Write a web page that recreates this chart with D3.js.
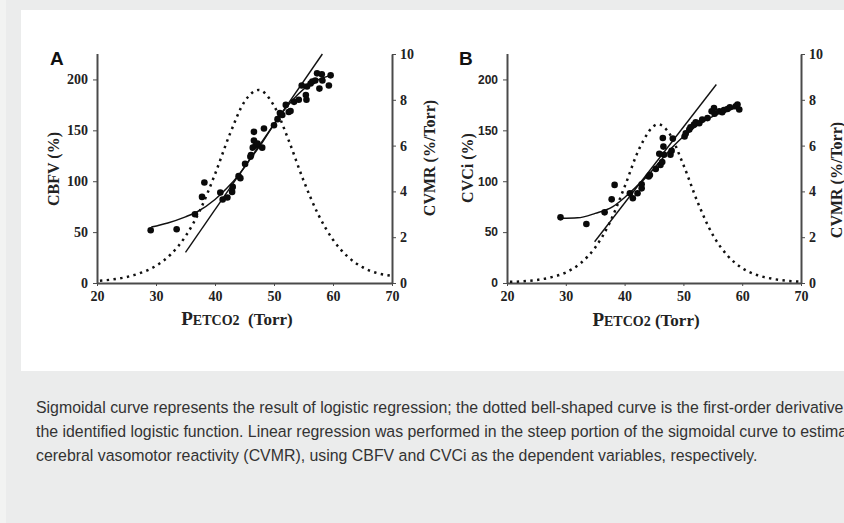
<!DOCTYPE html>
<html>
<head>
<meta charset="utf-8">
<script src="https://cdn.jsdelivr.net/npm/d3@7"></script>
<style>
  html, body { margin: 0; padding: 0; background: #ebecec; overflow: hidden; }
  svg { display: block; }
</style>
</head>
<body>
<svg id="fig" width="844" height="523"></svg>
<script>
// Shared tick values
const torrTicks = [20, 30, 40, 50, 60, 70];
const pctTicks = [0, 50, 100, 150, 200];
const cvmrTicks = [0, 2, 4, 6, 8, 10];

// Panel A: CBFV observations
const cbfvTorr = [29.1, 33.5, 36.6, 37.8, 38.2, 40.9, 41.3, 42.1, 42.9, 43.0, 44.0, 44.3, 45.1, 46.0, 46.1, 46.4,
  46.6, 46.6, 46.9, 47.2, 48.0, 48.3, 50.0, 50.6, 51.0, 51.4, 52.0, 52.5, 52.8, 53.4, 54.2, 54.7, 55.4, 55.5,
  55.6, 56.2, 56.5, 57.0, 57.3, 57.7, 58.1, 58.2, 59.3, 59.6];
const cbfvPct = [51.8, 52.8, 67.5, 84.6, 98.7, 88.9, 82.0, 84.0, 89.5, 94.4, 105, 103, 117, 124, 125.6, 133,
  148.5, 140, 135, 137, 133, 151.8, 155, 161, 167, 165, 175, 168, 169, 178, 180, 194, 184.6, 180,
  193, 196, 198, 199, 206, 191, 205, 199, 194, 204];
// Panel A: logistic fit, its derivative, and the linear fit of the steep part
const cbfvFitTorr = [29.2, 32, 35, 37, 40, 42, 44, 46, 48, 50, 52, 54, 56, 58, 59.6];
const cbfvFitPct = [55, 59, 65, 70, 82, 93, 106, 122, 138, 156, 172, 185, 195, 201, 204];
const cbfvDerivTorr = [20.5, 22.5, 25, 27.5, 30, 32.5, 35, 37.5, 40, 42.5, 45, 47.4, 50, 52.5, 55, 57.5, 60, 62.5, 65, 67.5, 69.8];
const cbfvDerivCvmr = [0.1, 0.15, 0.26, 0.45, 0.75, 1.25, 2.04, 3.2, 4.75, 6.49, 7.92, 8.43, 7.74, 6.22, 4.48, 2.99, 1.89, 1.15, 0.69, 0.43, 0.32];
const cbfvLineTorr = [35.0, 58.2];
const cbfvLinePct = [30, 225];

// Panel B: CVCi observations
const cvciTorr = [29.1, 33.5, 36.6, 37.8, 38.3, 40.9, 41.4, 42.2, 42.9, 42.9, 44.1, 44.3, 45.3, 45.9, 46.1, 46.4,
  46.5, 46.6, 46.7, 47.8, 48.0, 48.2, 50.2, 50.4, 51.0, 51.2, 51.8, 52.1, 52.7, 53.2, 54.1, 54.8, 55.2, 55.3,
  56.1, 56.6, 56.9, 57.5, 57.9, 58.9, 59.2, 59.5];
const cvciPct = [64.5, 57.9, 69.4, 82.2, 96.4, 88.2, 83.2, 88.2, 93, 97, 104.6, 106, 112, 127, 116, 118.8,
  142.4, 134, 126, 126, 130, 142, 144, 147, 150.7, 153, 155.6, 158, 157, 160.5, 162, 168.8, 172, 166.4,
  168.8, 167.8, 170, 171, 172.7, 173.7, 175.3, 170.4];
const cvciFitTorr = [29.2, 32, 35, 38, 40, 42, 44, 46, 48, 50, 52, 54, 56, 58, 59.6];
const cvciFitPct = [63.5, 64, 68.4, 75, 84, 94.7, 106, 119.4, 132.6, 144, 153.3, 160.5, 166.4, 170.4, 172.7];
const cvciDerivTorr = [20.5, 22.5, 25, 27.5, 30, 32.5, 35, 37.5, 40, 42.5, 45.7, 47.5, 50, 52.5, 55, 57.5, 60, 62.5, 65, 67.5, 69.8];
const cvciDerivCvmr = [0.05, 0.07, 0.13, 0.25, 0.46, 0.86, 1.55, 2.65, 4.2, 5.87, 6.93, 6.57, 5.16, 3.48, 2.1, 1.2, 0.65, 0.35, 0.19, 0.1, 0.06];
const cvciLineTorr = [34.9, 55.6];
const cvciLinePct = [40.5, 195];

const captionLines = [
  "Sigmoidal curve represents the result of logistic regression; the dotted bell-shaped curve is the first-order derivative of",
  "the identified logistic function. Linear regression was performed in the steep portion of the sigmoidal curve to estimate",
  "cerebral vasomotor reactivity (CVMR), using CBFV and CVCi as the dependent variables, respectively."
];

const svg = d3.select("#fig");

// page background and figure card
svg.append("rect").attr("x", 0).attr("y", 0).attr("width", 844).attr("height", 523).attr("fill", "#ebecec");
svg.append("rect").attr("x", 0).attr("y", 0).attr("width", 6).attr("height", 523).attr("fill", "#f2f3f2");
svg.append("rect").attr("x", 21).attr("y", 10).attr("width", 830).attr("height", 361).attr("fill", "#ffffff");

const serif = "'Liberation Serif', 'Times New Roman', serif";
const sans = "'Liberation Sans', Arial, sans-serif";

function panel(cfg) {
  const g = svg.append("g");
  const x = d3.scaleLinear().domain([20, 70]).range([cfg.left, cfg.right]);
  const y = d3.scaleLinear().domain([0, 225]).range([cfg.bottom, cfg.top]);
  const y2 = d3.scaleLinear().domain([0, 10]).range([cfg.bottom, cfg.top]);
  const axisColor = "#4a4a4a";

  const styleAxis = (sel, font, size) => {
    sel.attr("font-size", null).attr("font-family", null);
    sel.select(".domain").attr("stroke", axisColor).attr("stroke-width", 2);
    sel.selectAll(".tick line").attr("stroke", axisColor).attr("stroke-width", 1);
    sel.selectAll(".tick text").attr("fill", "#222").style("font-family", font)
      .style("font-weight", "bold").style("font-size", size + "px");
  };

  // x axis
  const gx = g.append("g").attr("transform", `translate(0,${cfg.bottom})`)
    .call(d3.axisBottom(x).tickValues(torrTicks).tickSize(3).tickSizeOuter(0).tickPadding(5));
  styleAxis(gx, serif, 14);

  // left axis
  const gy = g.append("g").attr("transform", `translate(${cfg.left},0)`)
    .call(d3.axisLeft(y).tickValues(pctTicks).tickSize(4).tickSizeOuter(0).tickPadding(5));
  styleAxis(gy, cfg.leftFont, cfg.leftFontSize);
  gy.select(".domain").attr("d", `M0.5,${cfg.bottom}V${cfg.top}`);

  // right axis
  const gy2 = g.append("g").attr("transform", `translate(${cfg.right},0)`)
    .call(d3.axisRight(y2).tickValues(cvmrTicks).tickSize(4).tickSizeOuter(0).tickPadding(4));
  styleAxis(gy2, serif, 14);

  // derivative of the logistic fit (dotted)
  const dLine = d3.line().x(i => x(cfg.derivTorr[i])).y(i => y2(cfg.derivCvmr[i])).curve(d3.curveMonotoneX);
  g.append("path").attr("d", dLine(d3.range(cfg.derivTorr.length)))
    .attr("fill", "none").attr("stroke", "#111").attr("stroke-width", 2.5)
    .attr("stroke-dasharray", "2.4,4.4");

  // linear regression over the steep part
  const lLine = d3.line().x(i => x(cfg.lineTorr[i])).y(i => y(cfg.linePct[i]));
  g.append("path").attr("d", lLine([0, 1]))
    .attr("fill", "none").attr("stroke", "#111").attr("stroke-width", 1.4);

  // logistic fit
  const fLine = d3.line().x(i => x(cfg.fitTorr[i])).y(i => y(cfg.fitPct[i])).curve(d3.curveMonotoneX);
  g.append("path").attr("d", fLine(d3.range(cfg.fitTorr.length)))
    .attr("fill", "none").attr("stroke", "#111").attr("stroke-width", 1.5);

  // observations
  g.append("g").selectAll("circle").data(d3.range(cfg.torr.length)).join("circle")
    .attr("cx", i => x(cfg.torr[i])).attr("cy", i => y(cfg.pct[i])).attr("r", 3.3)
    .attr("fill", "#0a0a0a");

  // panel letter
  g.append("text").attr("x", cfg.letterX).attr("y", 65).text(cfg.letter)
    .style("font-family", sans).style("font-weight", "bold").style("font-size", "19px").attr("fill", "#111");

  // left axis title
  g.append("text").attr("transform", `translate(${cfg.leftTitleX},${cfg.leftTitleY}) rotate(-90)`)
    .attr("text-anchor", "middle").attr("dy", "0.35em").text(cfg.leftTitle)
    .style("font-family", serif).style("font-weight", "bold").style("font-size", "16px").attr("fill", "#222");

  // right axis title
  g.append("text").attr("transform", `translate(${cfg.rightTitleX},${cfg.rightTitleY}) rotate(-90)`)
    .attr("text-anchor", "middle").attr("dy", "0.35em").text("CVMR (%/Torr)")
    .style("font-family", serif).style("font-weight", "bold").style("font-size", "16px").attr("fill", "#222");

  // x axis title: P with subscript-like ETCO2
  const xt = g.append("text").attr("x", cfg.xTitleX).attr("y", cfg.xTitleY).attr("text-anchor", "middle")
    .style("font-family", serif).style("font-weight", "bold").attr("fill", "#222");
  xt.append("tspan").text("P").style("font-size", "19px");
  xt.append("tspan").text("ETCO2").style("font-size", "14px");
  xt.append("tspan").text(cfg.xTitleGap + "(Torr)").style("font-size", "17px");
}

panel({
  left: 97, right: 392, top: 54, bottom: 283,
  torr: cbfvTorr, pct: cbfvPct,
  fitTorr: cbfvFitTorr, fitPct: cbfvFitPct,
  derivTorr: cbfvDerivTorr, derivCvmr: cbfvDerivCvmr,
  lineTorr: cbfvLineTorr, linePct: cbfvLinePct,
  letter: "A", letterX: 50,
  leftTitle: "CBFV (%)", leftTitleX: 53, leftTitleY: 169,
  rightTitleX: 429, rightTitleY: 158,
  xTitleX: 237, xTitleY: 325, xTitleGap: "\u00a0\u00a0",
  leftFont: serif, leftFontSize: 14
});

panel({
  left: 507, right: 801, top: 54, bottom: 283,
  torr: cvciTorr, pct: cvciPct,
  fitTorr: cvciFitTorr, fitPct: cvciFitPct,
  derivTorr: cvciDerivTorr, derivCvmr: cvciDerivCvmr,
  lineTorr: cvciLineTorr, linePct: cvciLinePct,
  letter: "B", letterX: 459,
  leftTitle: "CVCi (%)", leftTitleX: 467, leftTitleY: 168,
  rightTitleX: 836, rightTitleY: 180,
  xTitleX: 646, xTitleY: 326, xTitleGap: "\u00a0",
  leftFont: sans, leftFontSize: 12
});

// caption, set in a slightly condensed face; long lines run past the card's right edge
svg.append("g").attr("transform", "translate(36,0) scale(0.935,1)")
  .selectAll("text").data(captionLines).join("text")
  .attr("x", 0).attr("y", (d, i) => 413 + i * 24)
  .text(d => d)
  .style("font-family", sans).style("font-size", "17px").attr("fill", "#333");
</script>
</body>
</html>
